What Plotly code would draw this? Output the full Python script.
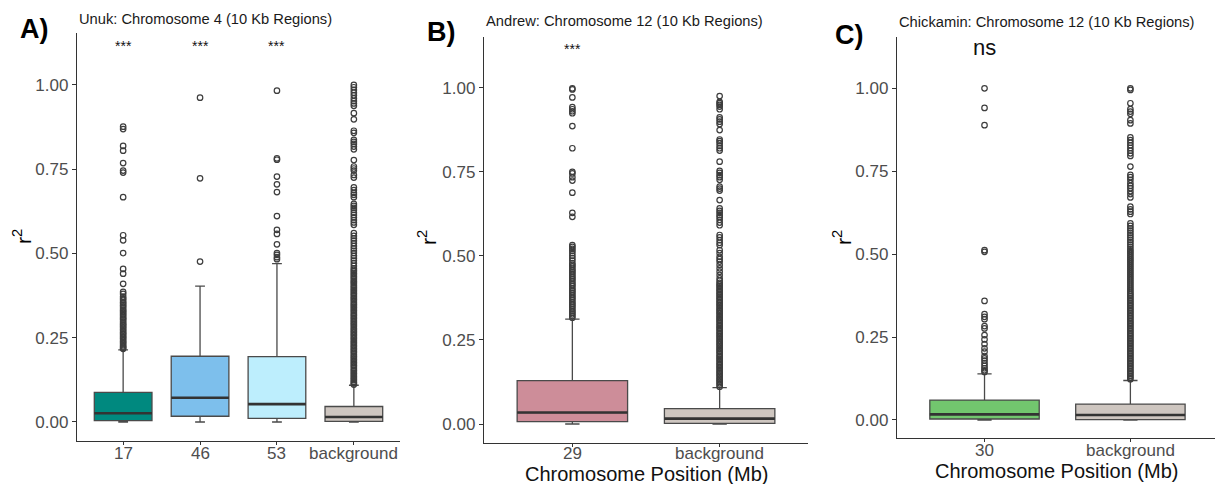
import plotly.graph_objects as go

W, H = 1215, 484
FONT = "Liberation Sans"

# ---------------- Panel A: Unuk ----------------
a_cats = ["17", "46", "53", "background"]
a_colors = ["#00897F", "#7DBFEC", "#BDEEFD", "#CEC6C0"]
a_q1 = [0.004, 0.017, 0.011, 0.002]
a_med = [0.026, 0.072, 0.053, 0.015]
a_q3 = [0.088, 0.195, 0.194, 0.046]
a_lo = [0.0, 0.0, 0.0, 0.0]
a_hi = [0.214, 0.403, 0.470, 0.109]
a_out_17 = [0.876, 0.869, 0.819, 0.805, 0.768, 0.746, 0.740, 0.667, 0.554, 0.539,
            0.501, 0.454, 0.440, 0.410, 0.386, 0.380, 0.372, 0.367, 0.362, 0.356,
            0.352, 0.347, 0.343, 0.338, 0.333, 0.329, 0.325, 0.320, 0.316, 0.311,
            0.307, 0.303, 0.298, 0.293, 0.289, 0.285, 0.281, 0.276, 0.272, 0.267,
            0.263, 0.259, 0.254, 0.250, 0.246, 0.241, 0.237, 0.233, 0.228, 0.224,
            0.220, 0.217]
a_out_46 = [0.962, 0.723, 0.476]
a_out_53 = [0.983, 0.782, 0.778, 0.728, 0.705, 0.682, 0.611, 0.570, 0.558, 0.527,
            0.501, 0.496, 0.489, 0.483]
a_out_bg = [1.000, 0.993, 0.985, 0.977, 0.969, 0.960, 0.952, 0.945, 0.938, 0.916,
            0.898, 0.864, 0.858, 0.837, 0.831, 0.825, 0.817, 0.809, 0.777, 0.758,
            0.752, 0.746, 0.733, 0.725, 0.696, 0.688, 0.680, 0.674, 0.667, 0.647,
            0.641, 0.635, 0.629, 0.621, 0.614, 0.607, 0.599, 0.592, 0.585, 0.560,
            0.552, 0.545, 0.538, 0.530, 0.522, 0.515, 0.508, 0.501, 0.493, 0.486,
            0.479, 0.471, 0.463, 0.456, 0.451, 0.447, 0.442, 0.438, 0.433, 0.429,
            0.424, 0.419, 0.415, 0.411, 0.406, 0.401, 0.397, 0.392, 0.388, 0.383,
            0.379, 0.374, 0.369, 0.365, 0.361, 0.356, 0.351, 0.347, 0.342, 0.338,
            0.333, 0.329, 0.324, 0.319, 0.315, 0.310, 0.306, 0.301, 0.297, 0.292,
            0.288, 0.283, 0.278, 0.274, 0.269, 0.265, 0.260, 0.256, 0.251, 0.247,
            0.242, 0.237, 0.233, 0.228, 0.224, 0.219, 0.215, 0.210, 0.206, 0.201,
            0.196, 0.192, 0.187, 0.183, 0.178, 0.174, 0.169, 0.165, 0.160, 0.155,
            0.151, 0.146, 0.142, 0.137, 0.133, 0.128, 0.124, 0.119, 0.115, 0.111]
a_outliers = [a_out_17, a_out_46, a_out_53, a_out_bg]
a_sig = ["***", "***", "***", ""]

# ---------------- Panel B: Andrew ----------------
b_cats = ["29", "background"]
b_colors = ["#CD8D99", "#CEC6C0"]
b_q1 = [0.007, 0.002]
b_med = [0.034, 0.016]
b_q3 = [0.129, 0.046]
b_lo = [0.0, 0.0]
b_hi = [0.312, 0.108]
b_out_29 = [0.998, 0.995, 0.971, 0.942, 0.936, 0.930, 0.924, 0.886, 0.820, 0.750,
            0.745, 0.734, 0.724, 0.688, 0.628, 0.616, 0.532, 0.527, 0.521, 0.515,
            0.508, 0.500, 0.493, 0.486, 0.478, 0.473, 0.468, 0.462, 0.457, 0.452,
            0.447, 0.441, 0.436, 0.431, 0.426, 0.420, 0.415, 0.410, 0.404, 0.399,
            0.394, 0.389, 0.383, 0.378, 0.373, 0.368, 0.362, 0.357, 0.352, 0.347,
            0.341, 0.336, 0.331, 0.326, 0.321, 0.316]
b_out_bg = [0.975, 0.958, 0.954, 0.949, 0.944, 0.936, 0.912, 0.906, 0.899, 0.892,
            0.874, 0.846, 0.841, 0.835, 0.827, 0.820, 0.813, 0.780, 0.753, 0.747,
            0.740, 0.734, 0.726, 0.706, 0.700, 0.694, 0.666, 0.641, 0.634, 0.628,
            0.621, 0.615, 0.607, 0.599, 0.591, 0.562, 0.555, 0.547, 0.539, 0.532,
            0.517, 0.508, 0.497, 0.490, 0.483, 0.473, 0.463, 0.453, 0.443, 0.433,
            0.426, 0.420, 0.415, 0.411, 0.406, 0.401, 0.397, 0.392, 0.387, 0.383,
            0.378, 0.374, 0.369, 0.364, 0.360, 0.355, 0.351, 0.346, 0.341, 0.337,
            0.332, 0.328, 0.323, 0.318, 0.314, 0.309, 0.305, 0.300, 0.295, 0.291,
            0.286, 0.282, 0.277, 0.272, 0.268, 0.263, 0.259, 0.254, 0.249, 0.245,
            0.240, 0.236, 0.231, 0.226, 0.222, 0.217, 0.213, 0.208, 0.203, 0.199,
            0.194, 0.190, 0.185, 0.180, 0.176, 0.171, 0.167, 0.162, 0.157, 0.153,
            0.148, 0.144, 0.139, 0.134, 0.130, 0.125, 0.121, 0.116, 0.111]
b_outliers = [b_out_29, b_out_bg]
b_sig = ["***", ""]

# ---------------- Panel C: Chickamin ----------------
c_cats = ["30", "background"]
c_colors = ["#72C66E", "#CEC6C0"]
c_q1 = [0.003, 0.001]
c_med = [0.017, 0.015]
c_q3 = [0.060, 0.048]
c_lo = [0.0, 0.0]
c_hi = [0.139, 0.119]
c_out_30 = [1.000, 0.941, 0.889, 0.512, 0.507, 0.359, 0.319, 0.311, 0.304, 0.283,
            0.276, 0.256, 0.243, 0.229, 0.216, 0.206, 0.193, 0.186, 0.179, 0.171,
            0.163, 0.156, 0.150, 0.145]
c_out_bg = [1.000, 0.995, 0.955, 0.937, 0.930, 0.923, 0.904, 0.894, 0.852, 0.844,
            0.836, 0.828, 0.820, 0.812, 0.804, 0.796, 0.764, 0.739, 0.732, 0.724,
            0.714, 0.706, 0.699, 0.690, 0.681, 0.671, 0.643, 0.635, 0.628, 0.621,
            0.593, 0.585, 0.578, 0.571, 0.564, 0.557, 0.550, 0.543, 0.536, 0.529,
            0.522, 0.515, 0.509, 0.503, 0.497, 0.491, 0.485, 0.479, 0.473, 0.467,
            0.461, 0.455, 0.449, 0.443, 0.437, 0.431, 0.425, 0.419, 0.413, 0.407,
            0.401, 0.395, 0.389, 0.383, 0.378, 0.373, 0.368, 0.363, 0.358, 0.353,
            0.348, 0.343, 0.338, 0.333, 0.328, 0.323, 0.318, 0.313, 0.308, 0.303,
            0.298, 0.293, 0.288, 0.283, 0.278, 0.273, 0.268, 0.263, 0.258, 0.253,
            0.248, 0.243, 0.238, 0.233, 0.228, 0.223, 0.218, 0.213, 0.208, 0.203,
            0.198, 0.193, 0.188, 0.183, 0.178, 0.173, 0.168, 0.163, 0.158, 0.153,
            0.148, 0.143, 0.138, 0.133, 0.128, 0.123]
c_outliers = [c_out_30, c_out_bg]
c_sig = ["ns", ""]

y_ticks = [0.0, 0.25, 0.5, 0.75, 1.0]
y_ticktext = ["0.00", "0.25", "0.50", "0.75", "1.00"]

titles = ["Unuk: Chromosome 4 (10 Kb Regions)",
          "Andrew: Chromosome 12 (10 Kb Regions)",
          "Chickamin: Chromosome 12 (10 Kb Regions)"]
panel_labels = ["A)", "B)", "C)"]
x_titles = ["", "Chromosome Position (Mb)", "Chromosome Position (Mb)"]

fig = go.Figure()

panels = [
    dict(cats=a_cats, colors=a_colors, q1=a_q1, med=a_med, q3=a_q3, lo=a_lo, hi=a_hi,
         outs=a_outliers, sig=a_sig, xa="x", ya="y",
         xdom=[77, 400], ydom=[33, 441], yr=[-0.0564, 1.154], ww=0.17,
         xr=[-0.6, 3.6], ticky=453, titley=473),
    dict(cats=b_cats, colors=b_colors, q1=b_q1, med=b_med, q3=b_q3, lo=b_lo, hi=b_hi,
         outs=b_outliers, sig=b_sig, xa="x2", ya="y2",
         xdom=[484, 808], ydom=[37, 443], yr=[-0.0565, 1.1508], ww=0.13,
         xr=[-0.6, 1.6], ticky=453.5, titley=474),
    dict(cats=c_cats, colors=c_colors, q1=c_q1, med=c_med, q3=c_q3, lo=c_lo, hi=c_hi,
         outs=c_outliers, sig=c_sig, xa="x3", ya="y3",
         xdom=[897, 1215], ydom=[37, 438], yr=[-0.0543, 1.1547], ww=0.13,
         xr=[-0.6, 1.58], ticky=450, titley=471),
]

annotations = []
layout_axes = {}
for i, p in enumerate(panels):
    for j, cat in enumerate(p["cats"]):
        fig.add_trace(go.Box(
            x=[cat], q1=[p["q1"][j]], median=[p["med"][j]], q3=[p["q3"][j]],
            lowerfence=[p["lo"][j]], upperfence=[p["hi"][j]],
            width=0.75, whiskerwidth=p["ww"], boxpoints=False,
            fillcolor=p["colors"][j], line=dict(color="#4a4a4a", width=1.3),
            xaxis=p["xa"], yaxis=p["ya"], showlegend=False, hoverinfo="skip"))
        # thicker median line (ggplot style)
        fig.add_trace(go.Box(
            x=[cat], q1=[p["med"][j]], median=[p["med"][j]], q3=[p["med"][j]],
            lowerfence=[p["med"][j]], upperfence=[p["med"][j]],
            width=0.75, whiskerwidth=0, boxpoints=False,
            fillcolor="rgba(0,0,0,0)", line=dict(color="#333333", width=2.6),
            xaxis=p["xa"], yaxis=p["ya"], showlegend=False, hoverinfo="skip"))
        fig.add_trace(go.Scatter(
            x=[cat] * len(p["outs"][j]), y=p["outs"][j], mode="markers",
            marker=dict(symbol="circle-open", size=5.5, color="#3d3d3d",
                        line=dict(width=1.2, color="#3d3d3d")),
            xaxis=p["xa"], yaxis=p["ya"], showlegend=False, hoverinfo="skip"))
        if p["sig"][j]:
            is_ns = p["sig"][j] == "ns"
            annotations.append(dict(
                x=j, y=1.122, xref=p["xa"], yref=p["ya"],
                text=p["sig"][j], showarrow=False,
                font=dict(family=FONT, size=22 if is_ns else 14, color="#111111"),
                yshift=-2 if not is_ns else 0))
        # category (tick) label
        annotations.append(dict(
            x=j, y=1 - p["ticky"] / H, xref=p["xa"], yref="paper",
            xanchor="center", yanchor="middle", text=cat, showarrow=False,
            borderpad=0, font=dict(family=FONT, size=17, color="#4D4D4D")))

    sfx = "" if i == 0 else str(i + 1)
    layout_axes["xaxis" + sfx] = dict(
        domain=[p["xdom"][0] / W, p["xdom"][1] / W], anchor="y" + sfx,
        type="category", categoryorder="array", categoryarray=p["cats"],
        range=p["xr"], showline=True, linecolor="#333333", linewidth=1.3,
        ticks="outside", ticklen=3, tickcolor="#333333", tickwidth=1.1,
        showticklabels=False,
        showgrid=False, zeroline=False, fixedrange=True)
    layout_axes["yaxis" + sfx] = dict(
        domain=[1 - p["ydom"][1] / H, 1 - p["ydom"][0] / H], anchor="x" + sfx,
        range=p["yr"], tickvals=y_ticks, ticktext=y_ticktext,
        showline=True, linecolor="#333333", linewidth=1.3,
        ticks="outside", ticklen=4, tickcolor="#333333", tickwidth=1.1,
        tickfont=dict(family=FONT, size=17, color="#4D4D4D"),
        showgrid=False, zeroline=False, fixedrange=True)
    if x_titles[i]:
        cx = (p["xdom"][0] + p["xdom"][1]) / 2
        annotations.append(dict(x=cx / W, y=1 - p["titley"] / H, xref="paper",
                                yref="paper", xanchor="center", yanchor="middle",
                                text=x_titles[i], showarrow=False, borderpad=0,
                                font=dict(family=FONT, size=20, color="#111111")))

# panel titles
title_pos = [(77, 19), (484, 21), (897, 22)]
for (tx, ty), t in zip(title_pos, titles):
    annotations.append(dict(x=tx / W, y=1 - ty / H, xref="paper", yref="paper",
                            xanchor="left", yanchor="middle", text=t, showarrow=False,
                            font=dict(family=FONT, size=14.7, color="#1a1a1a")))
# panel letters
label_pos = [(34, 29), (442, 32), (849, 35)]
for (lx, ly), t in zip(label_pos, panel_labels):
    annotations.append(dict(x=lx / W, y=1 - ly / H, xref="paper", yref="paper",
                            xanchor="center", yanchor="middle", text="<b>" + t + "</b>",
                            showarrow=False,
                            font=dict(family=FONT, size=27, color="#000000")))
# y-axis titles r^2
ylab_pos = [(22, 237), (427, 238), (842, 238)]
for lx, ly in ylab_pos:
    annotations.append(dict(x=lx / W, y=1 - ly / H, xref="paper", yref="paper",
                            xanchor="center", yanchor="middle", text="r<sup>2</sup>",
                            textangle=-90, showarrow=False,
                            font=dict(family=FONT, size=21, color="#000000")))

fig.update_layout(
    width=W, height=H, margin=dict(l=0, r=0, t=0, b=0),
    paper_bgcolor="white", plot_bgcolor="white", showlegend=False,
    boxmode="overlay", annotations=annotations, **layout_axes)

fig.write_html("out.html")
